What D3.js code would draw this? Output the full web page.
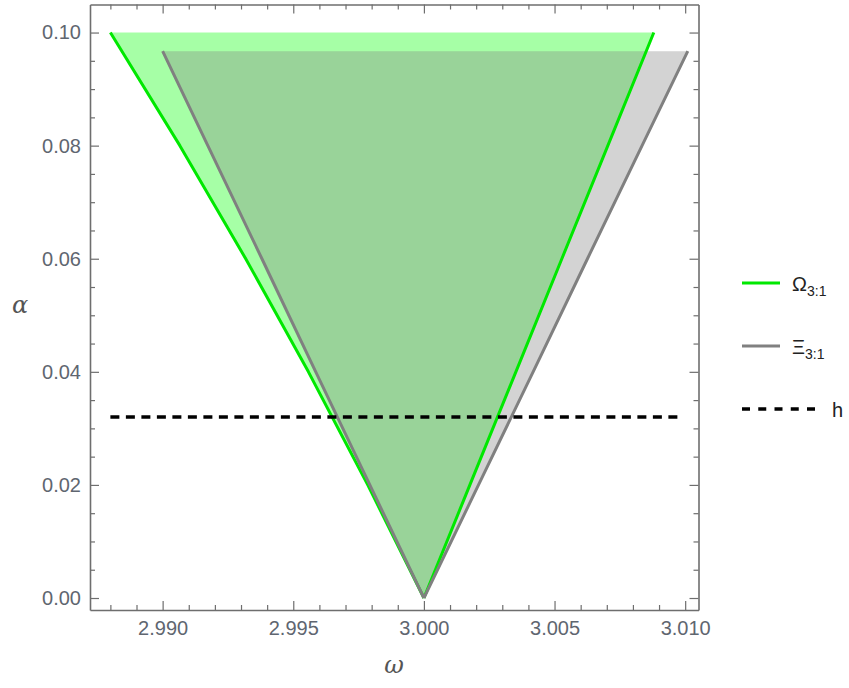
<!DOCTYPE html>
<html>
<head>
<meta charset="utf-8">
<script src="https://cdn.jsdelivr.net/npm/d3@7"></script>
<style>
  html, body { margin: 0; padding: 0; background: #fff; }
  svg { display: block; font-family: "Liberation Sans", Arial, sans-serif; }
</style>
</head>
<body>
<svg id="chart" width="849" height="688"></svg>
<script>
// Tongue boundaries: coupling strength alpha against frequency omega
const omegaGreenAlpha = [0, 0.02, 0.04, 0.06, 0.08, 0.10];
const omegaGreenLeft  = [3.000, 2.99785, 2.99558, 2.99318, 2.99066, 2.9880];
const omegaGreenRight = [3.000, 3.00176, 3.00352, 3.00528, 3.00704, 3.0088];

const xiGrayAlpha = [0, 0.02, 0.04, 0.06, 0.08, 0.0967];
const xiGrayLeft  = [3.000, 2.99793, 2.99586, 2.99380, 2.99173, 2.9900];
const xiGrayRight = [3.000, 3.00209, 3.00418, 3.00626, 3.00835, 3.0101];

// Horizontal threshold h
const hLevel = 0.032;
const hOmegaRange = [2.9880, 3.0099];

// Tick labels
const xTickValues = [2.990, 2.995, 3.000, 3.005, 3.010];
const xTickLabels = ["2.990", "2.995", "3.000", "3.005", "3.010"];
const yTickValues = [0.00, 0.02, 0.04, 0.06, 0.08, 0.10];
const yTickLabels = ["0.00", "0.02", "0.04", "0.06", "0.08", "0.10"];

const legendEntries = ["\u03A9", "\u039E", "h"];
const legendSubscripts = ["3:1", "3:1", ""];

const svg = d3.select("#chart");
const frame = { left: 90, right: 698.5, top: 4.5, bottom: 610 };

const x = d3.scaleLinear().domain([2.98722, 3.01051]).range([frame.left, frame.right]);
const y = d3.scaleLinear().domain([-0.00212, 0.10496]).range([frame.bottom, frame.top]);

const plot = svg.append("g");
plot.append("clipPath").attr("id", "clip")
  .append("rect").attr("x", frame.left).attr("y", frame.top)
  .attr("width", frame.right - frame.left).attr("height", frame.bottom - frame.top);
const inner = plot.append("g").attr("clip-path", "url(#clip)");

function region(alphas, lefts, rights) {
  const pts = [];
  for (let i = alphas.length - 1; i >= 0; i--) pts.push([x(lefts[i]), y(alphas[i])]);
  for (let i = 0; i < alphas.length; i++) pts.push([x(rights[i]), y(alphas[i])]);
  return pts;
}
function side(alphas, omegas) {
  return alphas.map((a, i) => [x(omegas[i]), y(a)]);
}
const line = d3.line();

// Filled regions
inner.append("path")
  .attr("d", line(region(omegaGreenAlpha, omegaGreenLeft, omegaGreenRight)) + "Z")
  .attr("fill", "rgb(0,255,0)").attr("fill-opacity", 0.35);
inner.append("path")
  .attr("d", line(region(xiGrayAlpha, xiGrayLeft, xiGrayRight)) + "Z")
  .attr("fill", "rgb(128,128,128)").attr("fill-opacity", 0.35);

// Boundary curves
const greenColor = "#00e800", grayColor = "#808080";
[omegaGreenLeft, omegaGreenRight].forEach(om => {
  inner.append("path").attr("d", line(side(omegaGreenAlpha, om)))
    .attr("fill", "none").attr("stroke", greenColor).attr("stroke-width", 3)
    .attr("stroke-linejoin", "round");
});
[xiGrayLeft, xiGrayRight].forEach(om => {
  inner.append("path").attr("d", line(side(xiGrayAlpha, om)))
    .attr("fill", "none").attr("stroke", grayColor).attr("stroke-width", 3)
    .attr("stroke-linejoin", "round");
});

// Threshold line h
inner.append("line")
  .attr("x1", x(hOmegaRange[0])).attr("x2", x(hOmegaRange[1]))
  .attr("y1", y(hLevel)).attr("y2", y(hLevel))
  .attr("stroke", "#000").attr("stroke-width", 3.5)
  .attr("stroke-dasharray", "9,6.5");

// Frame with inward ticks on all sides
const axisColor = "#6e6e6e";
const labelColor = "#5f6670";
const xMinor = d3.range(2.988, 3.0105, 0.001).filter(v => !xTickValues.some(t => Math.abs(t - v) < 1e-9));
const yMinor = d3.range(0.005, 0.1049, 0.005).filter(v => !yTickValues.some(t => Math.abs(t - v) < 1e-9));

function styleAxis(g) {
  g.select(".domain").attr("stroke", axisColor).attr("stroke-width", 1.6);
  g.selectAll(".tick line").attr("stroke", axisColor).attr("stroke-width", 1.2);
  g.selectAll(".tick text").attr("fill", labelColor)
    .style("font-size", "20px").style("font-family", "'Liberation Sans', Arial, sans-serif");
}

// bottom
svg.append("g").attr("transform", `translate(0,${frame.bottom})`)
  .call(d3.axisBottom(x).tickValues(xTickValues).tickFormat((d, i) => xTickLabels[i])
    .tickSizeInner(-9).tickSizeOuter(0).tickPadding(11))
  .call(styleAxis);
svg.append("g").attr("transform", `translate(0,${frame.bottom})`)
  .call(d3.axisBottom(x).tickValues(xMinor).tickFormat("").tickSizeInner(-5).tickSizeOuter(0))
  .call(styleAxis).call(g => g.select(".domain").remove());
// top
svg.append("g").attr("transform", `translate(0,${frame.top})`)
  .call(d3.axisTop(x).tickValues(xTickValues).tickFormat("").tickSizeInner(-9).tickSizeOuter(0))
  .call(styleAxis);
svg.append("g").attr("transform", `translate(0,${frame.top})`)
  .call(d3.axisTop(x).tickValues(xMinor).tickFormat("").tickSizeInner(-5).tickSizeOuter(0))
  .call(styleAxis).call(g => g.select(".domain").remove());
// left
svg.append("g").attr("transform", `translate(${frame.left},0)`)
  .call(d3.axisLeft(y).tickValues(yTickValues).tickFormat((d, i) => yTickLabels[i])
    .tickSizeInner(-9).tickSizeOuter(0).tickPadding(9))
  .call(styleAxis);
svg.append("g").attr("transform", `translate(${frame.left},0)`)
  .call(d3.axisLeft(y).tickValues(yMinor).tickFormat("").tickSizeInner(-5).tickSizeOuter(0))
  .call(styleAxis).call(g => g.select(".domain").remove());
// right
svg.append("g").attr("transform", `translate(${frame.right},0)`)
  .call(d3.axisRight(y).tickValues(yTickValues).tickFormat("").tickSizeInner(-9).tickSizeOuter(0))
  .call(styleAxis);
svg.append("g").attr("transform", `translate(${frame.right},0)`)
  .call(d3.axisRight(y).tickValues(yMinor).tickFormat("").tickSizeInner(-5).tickSizeOuter(0))
  .call(styleAxis).call(g => g.select(".domain").remove());

// Axis titles
svg.append("text").attr("x", 394).attr("y", 673).attr("text-anchor", "middle")
  .attr("fill", "#555").style("font-size", "24px").style("font-style", "italic")
  .style("font-family", "'DejaVu Serif', serif").text("\u03C9");
svg.append("text").attr("x", 20).attr("y", 313).attr("text-anchor", "middle")
  .attr("fill", "#555").style("font-size", "24px").style("font-style", "italic")
  .style("font-family", "'DejaVu Serif', serif").text("\u03B1");

// Legend
const legend = svg.append("g");
const legendY = [283, 346, 409];
legend.append("line").attr("x1", 742).attr("x2", 780).attr("y1", legendY[0]).attr("y2", legendY[0])
  .attr("stroke", greenColor).attr("stroke-width", 3);
legend.append("line").attr("x1", 742).attr("x2", 780).attr("y1", legendY[1]).attr("y2", legendY[1])
  .attr("stroke", grayColor).attr("stroke-width", 3);
legend.append("line").attr("x1", 742).attr("x2", 815).attr("y1", legendY[2]).attr("y2", legendY[2])
  .attr("stroke", "#000").attr("stroke-width", 3.5).attr("stroke-dasharray", "8,8.25");
const legendX = [792, 792, 832];
legendEntries.forEach((t, i) => {
  const txt = legend.append("text").attr("x", legendX[i]).attr("y", legendY[i] + 8)
    .attr("fill", "#222").style("font-size", "20px");
  txt.append("tspan").text(t);
  if (legendSubscripts[i]) {
    txt.append("tspan").attr("dy", 5).style("font-size", "14px").text(legendSubscripts[i]);
  }
});
</script>
</body>
</html>
